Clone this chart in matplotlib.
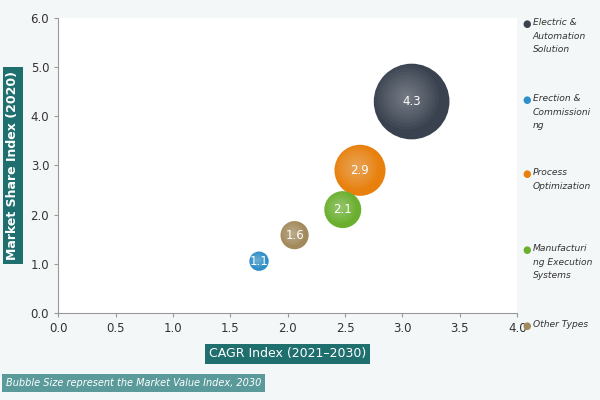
import matplotlib
matplotlib.use("Agg")
import matplotlib.pyplot as plt
import numpy as np

categories = ["Electric &\nAutomation\nSolution", "Erection &\nCommissioni\nng", "Process\nOptimization", "Manufacturi\nng Execution\nSystems", "Other Types"]
cagr = [3.08, 1.75, 2.63, 2.48, 2.06]
share = [4.3, 1.05, 2.9, 2.1, 1.58]
value = [4.3, 1.1, 2.9, 2.1, 1.6]
colors = ["#3a4250", "#2f8fc8", "#e8800e", "#6ab02e", "#a38a5c"]
x_ticks = [0.0, 0.5, 1.0, 1.5, 2.0, 2.5, 3.0, 3.5, 4.0]
y_ticks = [0.0, 1.0, 2.0, 3.0, 4.0, 5.0, 6.0]

fig = plt.figure(figsize=(6, 4), dpi=100)
fig.patch.set_facecolor("#f4f7f7")
ax = fig.add_axes([0.097, 0.218, 0.765, 0.737])
ax.set_facecolor("white")
ax.set_xlim(0, 4)
ax.set_ylim(0, 6)
ax.set_xticks(x_ticks)
ax.set_yticks(y_ticks)
ax.set_xticklabels([f"{v:.1f}" for v in x_ticks], fontsize=8.5, color="#333")
ax.set_yticklabels([f"{v:.1f}" for v in y_ticks], fontsize=8.5, color="#333")
for s in ["top", "right"]:
    ax.spines[s].set_visible(False)
for s in ["left", "bottom"]:
    ax.spines[s].set_color("#999")
ax.tick_params(length=3, color="#999")

order = np.argsort(value)[::-1]
for i in order:
    r = value[i] * 8.8  # pixels
    pts = r * 0.72 * 2
    ax.scatter(cagr[i], share[i], s=pts**2, color=colors[i], zorder=3, edgecolors="none")
    for k in np.linspace(0.85, 0.1, 10):
        ax.scatter(cagr[i] - value[i]*0.01, share[i] + value[i]*0.02, s=(pts*k)**2,
                   color="white", alpha=0.035, zorder=4, edgecolors="none")
    ax.text(cagr[i], share[i], f"{value[i]:.1f}", color="white", ha="center", va="center", fontsize=8.5, zorder=5)

ax.set_xlabel("CAGR Index (2021\u20132030)", color="white", fontsize=9,
              bbox=dict(boxstyle="square,pad=0.3", fc="#1f6f6f", ec="none"), labelpad=9)
ax.set_ylabel("Market Share Index (2020)", color="white", fontsize=9, fontweight="bold",
              bbox=dict(boxstyle="square,pad=0.3", fc="#1f6f6f", ec="none"), labelpad=8)

ly = [0.955, 0.765, 0.58, 0.39, 0.2]
for c, name, y in zip(colors, categories, ly):
    fig.text(0.878, y - 0.003, "\u25cf", color=c, fontsize=7, va="top", ha="center")
    fig.text(0.888, y, name, fontsize=6.6, style="italic", color="#333", va="top", linespacing=1.65)

fig.text(0.01, 0.035, "Bubble Size represent the Market Value Index, 2030", fontsize=7, style="italic",
         color="white", bbox=dict(boxstyle="square,pad=0.4", fc="#5a9a9a", ec="none"))
fig.savefig("out.png", dpi=100, facecolor=fig.get_facecolor())
